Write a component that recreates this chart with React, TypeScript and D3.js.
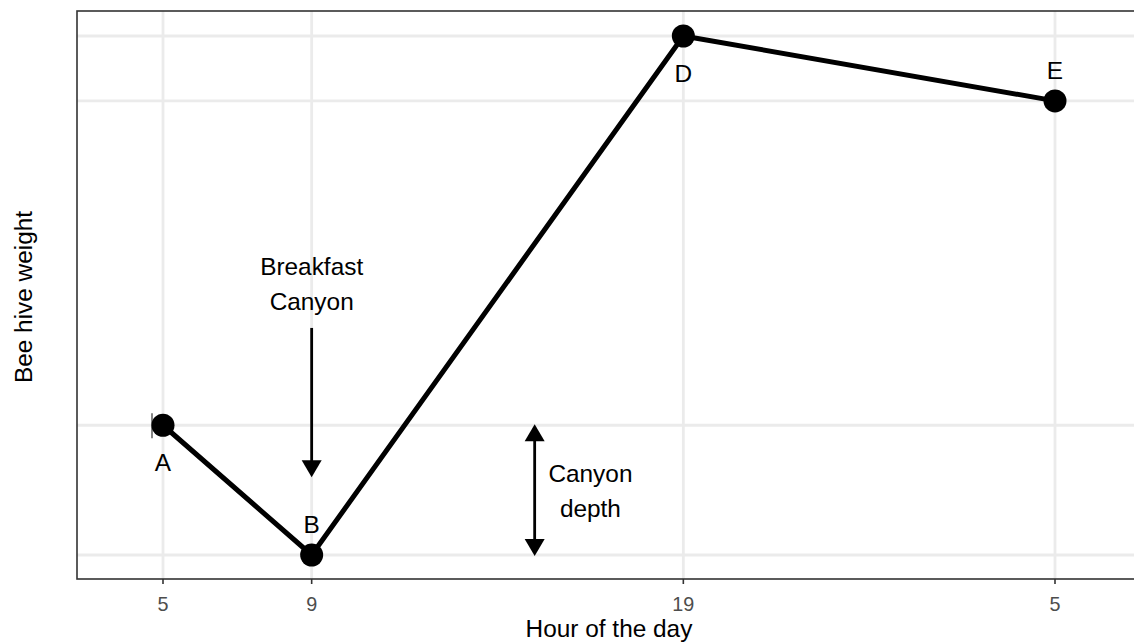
import React from "react";
import * as d3 from "d3";

const pointLabels = ["A", "B", "D", "E"];
const hours = [5, 9, 19, 29];
const weights = [2, 0, 8, 7];
const tickLabels = ["5", "9", "19", "5"];
const labelSide = ["below", "above", "below", "above"];

// annotations (data coords)
const breakfastArrow = { x: 9, yFrom: 3.5, yTo: 1.2 };
const breakfastText = ["Breakfast", "Canyon"];
const depthArrow = { x: 15, yFrom: 2, yTo: 0 };
const depthText = ["Canyon", "depth"];
const depthTextX = 16.5;

const W = 1134;
const H = 643;
const panel = { left: 77, top: 11, right: 1141, bottom: 579 };

export default function App() {
  const x = d3.scaleLinear().domain([5, 29]).range([163, 1055]);
  const y = d3.scaleLinear().domain([0, 8]).range([555, 36]);
  const font = "'Liberation Sans', Arial, sans-serif";
  const line = d3
    .line<number>()
    .x((_, i) => x(hours[i]))
    .y((d) => y(d));

  const headLen = 17;
  const headW = 20;
  const arrowHead = (tipX: number, tipY: number, dir: number) =>
    `M${tipX},${tipY} L${tipX - headW / 2},${tipY - dir * headLen} L${tipX + headW / 2},${tipY - dir * headLen} Z`;

  const bx = x(breakfastArrow.x);
  const by0 = y(breakfastArrow.yFrom);
  const by1 = y(breakfastArrow.yTo);
  const dx = x(depthArrow.x);
  const dy0 = y(depthArrow.yFrom);
  const dy1 = y(depthArrow.yTo);
  const fs = 24.4;

  return (
    <svg
      width={W}
      height={H}
      style={{ position: "absolute", left: 0, top: 0, background: "#fff" }}
      fontFamily={font}
    >
      <rect x={0} y={0} width={W} height={H} fill="#fff" />
      {/* grid */}
      {weights.map((w, i) => (
        <line key={"gy" + i} x1={panel.left} x2={panel.right} y1={y(w)} y2={y(w)} stroke="#EBEBEB" strokeWidth={2.8} />
      ))}
      {hours.map((h, i) => (
        <line key={"gx" + i} x1={x(h)} x2={x(h)} y1={panel.top} y2={panel.bottom} stroke="#EBEBEB" strokeWidth={2.8} />
      ))}
      {/* data line */}
      <path d={line(weights) || ""} fill="none" stroke="#000" strokeWidth={5} strokeLinejoin="round" />
      {/* small mark at A */}
      <line x1={x(hours[0]) - 11} x2={x(hours[0]) - 11} y1={y(weights[0]) - 12} y2={y(weights[0]) + 13} stroke="#333" strokeWidth={1.2} />
      {weights.map((w, i) => (
        <circle key={"p" + i} cx={x(hours[i])} cy={y(w)} r={11.5} fill="#000" />
      ))}
      {weights.map((w, i) => (
        <text
          key={"l" + i}
          x={x(hours[i])}
          y={y(w) + (labelSide[i] === "below" ? 46 : -22)}
          textAnchor="middle"
          fontSize={fs}
          fill="#000"
        >
          {pointLabels[i]}
        </text>
      ))}
      {/* breakfast arrow */}
      <line x1={bx} x2={bx} y1={by0} y2={by1 - headLen + 2} stroke="#000" strokeWidth={2.8} />
      <path d={arrowHead(bx, by1, 1)} fill="#000" />
      {breakfastText.map((t, i) => (
        <text key={"bt" + i} x={bx} y={275 + i * 35} textAnchor="middle" fontSize={fs} fill="#000">
          {t}
        </text>
      ))}
      {/* canyon depth arrow */}
      <line x1={dx} x2={dx} y1={dy0 + headLen - 2} y2={dy1 - headLen + 2} stroke="#000" strokeWidth={2.8} />
      <path d={arrowHead(dx, dy0 - 1, -1)} fill="#000" />
      <path d={arrowHead(dx, dy1 + 1, 1)} fill="#000" />
      {depthText.map((t, i) => (
        <text key={"dt" + i} x={x(depthTextX)} y={482 + i * 35} textAnchor="middle" fontSize={fs} fill="#000">
          {t}
        </text>
      ))}
      {/* panel border */}
      <rect
        x={panel.left}
        y={panel.top}
        width={panel.right - panel.left}
        height={panel.bottom - panel.top}
        fill="none"
        stroke="#333"
        strokeWidth={1.6}
      />
      {/* x ticks */}
      {hours.map((h, i) => (
        <g key={"t" + i}>
          <line x1={x(h)} x2={x(h)} y1={panel.bottom} y2={panel.bottom + 5} stroke="#333" strokeWidth={1.6} />
          <text x={x(h)} y={611} textAnchor="middle" fontSize={19.8} fill="#4D4D4D">
            {tickLabels[i]}
          </text>
        </g>
      ))}
      <text x={609} y={637} textAnchor="middle" fontSize={fs} fill="#000">
        Hour of the day
      </text>
      <text
        transform={`translate(32, 297) rotate(-90)`}
        textAnchor="middle"
        fontSize={fs}
        fill="#000"
      >
        Bee hive weight
      </text>
    </svg>
  );
}
